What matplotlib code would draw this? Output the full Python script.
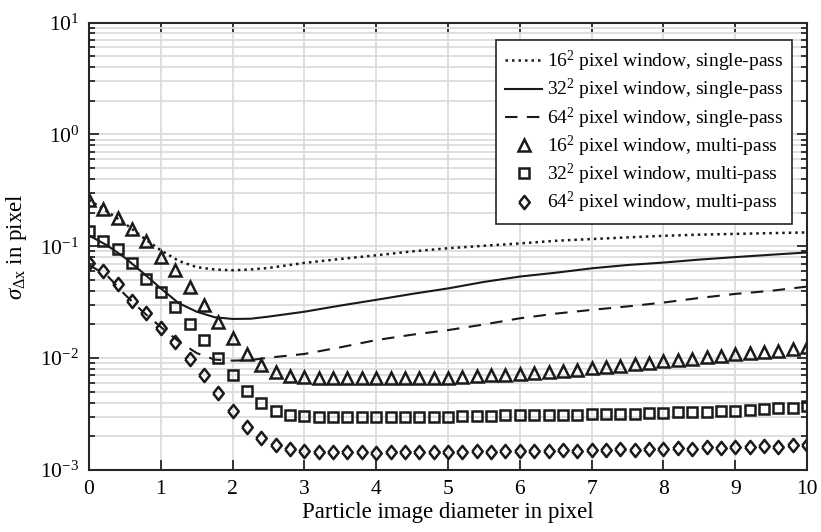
import matplotlib
matplotlib.use('Agg')
import matplotlib.pyplot as plt
from matplotlib.ticker import LogLocator, NullFormatter, FixedLocator
import numpy as np

plt.rcParams['font.family'] = ['Liberation Serif', 'DejaVu Serif']
plt.rcParams['mathtext.fontset'] = 'custom'
plt.rcParams['mathtext.rm'] = 'Liberation Serif'
plt.rcParams['mathtext.it'] = 'Liberation Serif:italic'
plt.rcParams['mathtext.bf'] = 'Liberation Serif:bold'

# single-pass curves
line_x = [0, 0.25, 0.5, 0.75, 1, 1.25, 1.5, 1.75, 2, 2.25, 2.5, 3, 3.5, 4, 4.5,
          5, 5.5, 6, 6.5, 7, 7.5, 8, 8.5, 9, 9.5, 10]
single_16 = [0.26, 0.205, 0.16, 0.12, 0.092, 0.074, 0.065, 0.062, 0.061, 0.062, 0.064,
             0.071, 0.077, 0.083, 0.09, 0.096, 0.101, 0.106, 0.112, 0.116, 0.12,
             0.124, 0.127, 0.129, 0.131, 0.133]
single_32 = [0.125, 0.102, 0.079, 0.058, 0.042, 0.031, 0.026, 0.0232, 0.0224, 0.0225,
             0.0235, 0.026, 0.0295, 0.0332, 0.0375, 0.042, 0.048, 0.0536, 0.058,
             0.0635, 0.068, 0.0715, 0.076, 0.080, 0.084, 0.088]
single_64 = [0.068, 0.055, 0.037, 0.026, 0.019, 0.0141, 0.0111, 0.0097, 0.0095, 0.0096,
             0.0101, 0.0109, 0.0125, 0.0145, 0.0162, 0.0178, 0.020, 0.0227, 0.025,
             0.027, 0.029, 0.0314, 0.0345, 0.0375, 0.040, 0.0436]

# multi-pass points, every 0.2 px
marker_x = np.round(np.arange(0, 10.01, 0.2), 1)
multi_16 = [0.26, 0.215, 0.178, 0.142, 0.112, 0.081, 0.061, 0.043, 0.030, 0.0212,
            0.0151, 0.0109, 0.0086, 0.0075, 0.0069, 0.0068, 0.0067, 0.0066, 0.0066,
            0.0066, 0.0066, 0.0066, 0.0066, 0.0066, 0.0067, 0.0067, 0.0068, 0.0069,
            0.0070, 0.0071, 0.0072, 0.0074, 0.0075, 0.0077, 0.0079, 0.0081, 0.0083,
            0.0085, 0.0088, 0.0091, 0.0094, 0.0097, 0.0099, 0.0102, 0.0105, 0.0108,
            0.0111, 0.0114, 0.0117, 0.0120, 0.0125]
multi_32 = [0.137, 0.112, 0.095, 0.0715, 0.0511, 0.0388, 0.0287, 0.0202, 0.0144, 0.0100,
            0.0070, 0.0051, 0.00395, 0.0034, 0.0031, 0.00305, 0.0030, 0.0030, 0.0030,
            0.0030, 0.0030, 0.0030, 0.0030, 0.0030, 0.0030, 0.0030, 0.00302, 0.00304,
            0.00306, 0.00308, 0.0031, 0.0031, 0.00311, 0.00312, 0.00313, 0.00314,
            0.00316, 0.00318, 0.0032, 0.00322, 0.00324, 0.00327, 0.0033, 0.00333,
            0.00337, 0.0034, 0.00345, 0.0035, 0.00356, 0.00362, 0.0037]
multi_64 = [0.0715, 0.0607, 0.0461, 0.0327, 0.0252, 0.01875, 0.0139, 0.0098, 0.0071,
            0.0049, 0.0034, 0.00244, 0.00195, 0.00167, 0.00153, 0.00148, 0.00146,
            0.00145, 0.00146, 0.00144, 0.00143, 0.00145, 0.00144, 0.00146, 0.00145,
            0.00146, 0.00144, 0.00147, 0.00145, 0.00149, 0.00148, 0.00149, 0.00147,
            0.00151, 0.00149, 0.00151, 0.0015, 0.00153, 0.00152, 0.00155, 0.00154,
            0.00157, 0.00155, 0.00159, 0.00158, 0.00161, 0.0016, 0.00164, 0.00162,
            0.00166, 0.00167]

labels = [r'16$^{\rm 2}$ pixel window, single-pass',
          r'32$^{\rm 2}$ pixel window, single-pass',
          r'64$^{\rm 2}$ pixel window, single-pass',
          r'16$^{\rm 2}$ pixel window, multi-pass',
          r'32$^{\rm 2}$ pixel window, multi-pass',
          r'64$^{\rm 2}$ pixel window, multi-pass']

# MATLAB-like diamond, a bit taller than wide
diamond = [(-0.8, 0), (0, 1), (0.8, 0), (0, -1), (-0.8, 0)]

fig = plt.figure(figsize=(8.21, 5.32), dpi=100)
ax = fig.add_axes([0.1084, 0.1165, 0.8746, 0.8412])

k = '#1a1a1a'
ax.plot(line_x, single_16, color=k, lw=1.8, linestyle=(0, (1, 1.6)), label=labels[0])
ax.plot(line_x, single_32, color=k, lw=1.5, linestyle='-', label=labels[1])
ax.plot(line_x, single_64, color=k, lw=1.5, linestyle=(0, (6, 4.5)), label=labels[2])
ax.plot(marker_x, multi_16, ls='none', marker='^', ms=8.5, mfc='none', mec=k, mew=1.8,
        label=labels[3])
ax.plot(marker_x, multi_32, ls='none', marker='s', ms=6.5, mfc='none', mec=k, mew=1.8,
        label=labels[4])
ax.plot(marker_x, multi_64, ls='none', marker=diamond, ms=9.5, mfc='none', mec=k,
        mew=1.8, label=labels[5])

ax.set_yscale('log')
ax.set_xlim(0, 10)
ax.set_ylim(1e-3, 1e1)
ax.xaxis.set_major_locator(FixedLocator(range(0, 11)))
ax.yaxis.set_major_locator(LogLocator(base=10, numticks=10))
ax.yaxis.set_minor_locator(LogLocator(base=10, subs=np.arange(2, 10), numticks=20))
ax.yaxis.set_minor_formatter(NullFormatter())

ax.grid(True, which='major', color='#dcdcdc', lw=1.3)
ax.grid(True, which='minor', axis='y', color='#dcdcdc', lw=1.3)
ax.set_axisbelow(True)

ax.tick_params(which='both', direction='in', top=True, right=True, color='#262626',
               labelsize=15.5, width=1.3)
ax.tick_params(which='major', length=7, pad=7)
ax.tick_params(which='minor', length=4)
for s in ax.spines.values():
    s.set_linewidth(1.5)
    s.set_color('#262626')

ax.set_xlabel('Particle image diameter in pixel', fontsize=16.5, labelpad=2)
ax.set_ylabel(r'$\sigma_{\Delta \rm x}$ in pixel', fontsize=16.5, labelpad=8)

leg = ax.legend(loc='upper right', bbox_to_anchor=(0.979, 0.961), borderaxespad=0,
                fontsize=14, frameon=True, fancybox=False, edgecolor='#262626',
                framealpha=1, handlelength=1.9, handletextpad=0.25, labelspacing=0.16,
                borderpad=0.45)
leg.get_frame().set_linewidth(1.2)

fig.savefig('out.png', dpi=100)
